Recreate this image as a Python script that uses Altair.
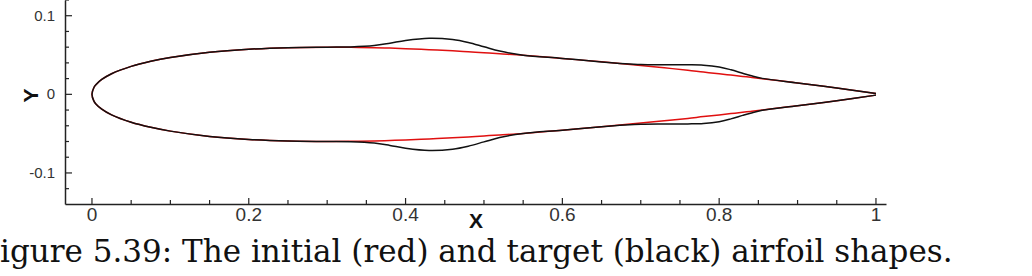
import altair as alt
import pandas as pd

# stations along the chord
x_st = [0.0, 0.0025, 0.005, 0.0125, 0.025, 0.05, 0.075, 0.1, 0.15, 0.2, 0.25,
        0.3, 0.33, 0.36, 0.38, 0.40, 0.43, 0.46, 0.48, 0.50, 0.52, 0.55,
        0.6, 0.65, 0.68, 0.70, 0.73, 0.76, 0.78, 0.80, 0.815, 0.83, 0.84,
        0.855, 0.9, 0.95, 1.0]

# initial (red) upper surface half-thickness
red_upper = [0.0, 0.0087, 0.0122, 0.0189, 0.0262, 0.0356, 0.0420, 0.0468, 0.0535,
             0.0574, 0.0594, 0.0600, 0.0598, 0.0593, 0.0588, 0.0580, 0.0568,
             0.0553, 0.0542, 0.0529, 0.0516, 0.0497, 0.0456, 0.0413, 0.0385,
             0.0366, 0.0337, 0.0307, 0.0283, 0.0262, 0.0245, 0.0228, 0.0217,
             0.0199, 0.0145, 0.0081, 0.0010]

# target (black) upper surface
black_upper = [0.0, 0.0087, 0.0122, 0.0189, 0.0262, 0.0356, 0.0420, 0.0468, 0.0535,
               0.0574, 0.0594, 0.0600, 0.0603, 0.0620, 0.0650, 0.0685, 0.0714,
               0.0698, 0.0660, 0.0605, 0.0550, 0.0498, 0.0457, 0.0412, 0.0390,
               0.0380, 0.0377, 0.0376, 0.0371, 0.0348, 0.0312, 0.0268, 0.0240,
               0.0203, 0.0145, 0.0081, 0.0010]

red_lower = [-v for v in red_upper]
black_lower = [-v for v in black_upper]

x_major = [0, 0.2, 0.4, 0.6, 0.8, 1]
x_labels = ["0", "0.2", "0.4", "0.6", "0.8", "1"]
x_minor = [0.05, 0.1, 0.15, 0.25, 0.3, 0.35, 0.45, 0.5, 0.55, 0.65, 0.7, 0.75, 0.85, 0.9, 0.95]
y_major = [-0.1, 0, 0.1]
y_labels = ["-0.1", "0", "0.1"]
y_minor = [-0.12, -0.08, -0.06, -0.04, -0.02, 0.02, 0.04, 0.06, 0.08, 0.12]

caption = "igure 5.39: The initial (red) and target (black) airfoil shapes."

rows = []
for name, up, lo in [("initial", red_upper, red_lower), ("target", black_upper, black_lower)]:
    pts = list(zip(x_st, up))[::-1] + list(zip(x_st, lo))[1:]
    for i, (xx, yy) in enumerate(pts):
        rows.append({"series": name, "x": xx, "y": yy, "i": i})
df = pd.DataFrame(rows)

xs = alt.Scale(domain=[-0.0344, 1.0128], nice=False, zero=False)
ys = alt.Scale(domain=[-0.1395, 0.12], nice=False, zero=False)

W, H = 821, 204

ax_x = alt.Axis(values=x_major, labels=False, title="X")
ax_y = alt.Axis(values=y_major, labels=False, title="Y")


def curve(series, color):
    return alt.Chart(df[df.series == series]).mark_line(
        color=color, strokeWidth=1.5, interpolate="catmull-rom").encode(
        x=alt.X("x:Q", scale=xs, axis=ax_x, title="X"),
        y=alt.Y("y:Q", scale=ys, axis=ax_y, title="Y"), order="i:Q")


def xticks(vals, length):
    return alt.Chart(pd.DataFrame({"x": vals})).mark_rule(color="#222", strokeWidth=1.2).encode(
        x=alt.X("x:Q", scale=xs, axis=ax_x, title="X"), y=alt.value(H), y2=alt.value(H - length))


def yticks(vals, length):
    return alt.Chart(pd.DataFrame({"y": vals})).mark_rule(color="#222", strokeWidth=1.2).encode(
        y=alt.Y("y:Q", scale=ys, axis=ax_y, title="Y"), x=alt.value(0), x2=alt.value(length))


xlab = alt.Chart(pd.DataFrame({"x": x_major, "lab": x_labels})).mark_text(
    align="center", baseline="alphabetic", font="Liberation Sans", fontSize=19, color="#333"
).encode(x=alt.X("x:Q", scale=xs, axis=ax_x, title="X"), y=alt.value(H + 17), text="lab:N")

ylab = alt.Chart(pd.DataFrame({"y": y_major, "lab": y_labels})).mark_text(
    align="right", baseline="alphabetic", font="Liberation Sans", fontSize=15, color="#333", dy=5
).encode(y=alt.Y("y:Q", scale=ys, axis=ax_y, title="Y"), x=alt.value(-10), text="lab:N")

cap = alt.Chart(pd.DataFrame({"c": [caption]})).mark_text(
    align="left", baseline="alphabetic", font="DejaVu Serif", fontSize=31, color="#111"
).encode(x=alt.value(-65), y=alt.value(262), text="c:N")

chart = alt.layer(
    curve("initial", "#e01010"), curve("target", "#111111"),
    xticks(x_major, 6), xticks(x_minor, 4), yticks(y_major, 7), yticks(y_minor, 4),
    xlab, ylab, cap
).properties(
    width=W, height=H, autosize=alt.AutoSizeParams(type="none"),
    padding={"left": 65, "top": 0, "right": 146, "bottom": 72}
).configure(background="white").configure_view(stroke=None).configure_axis(
    ticks=False, grid=False, domainColor="#222", domainWidth=1.5,
    titleFont="Liberation Sans", titleFontSize=21, titleFontWeight="bold", titleColor="#111",
).configure_axisX(
    titleY=17, titleBaseline="middle"
).configure_axisY(
    titleX=-34, titleY=95, titleAngle=270, titleAlign="center", titleBaseline="middle"
)

chart.save("out.html", embed_options={"renderer": "svg", "actions": False})
